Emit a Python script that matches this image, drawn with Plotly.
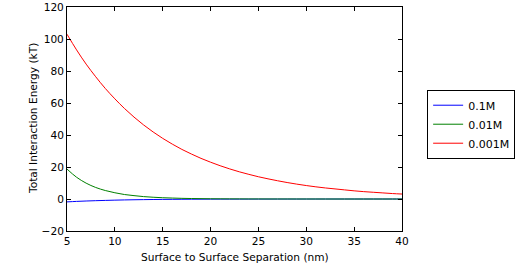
import plotly.graph_objects as go

separation_nm = [5, 6, 7, 8, 9, 10, 11, 12, 13, 14, 15, 16, 17, 18, 19, 20,
                 21, 22, 23, 24, 25, 26, 27, 28, 29, 30, 31, 32, 33, 34, 35,
                 36, 37, 38, 39, 40]

energy_01M = [-1.8, -1.5, -1.25, -1.05, -0.88, -0.72, -0.58, -0.47, -0.38, -0.31,
              -0.25, -0.21, -0.17, -0.14, -0.12, -0.10, -0.09, -0.08, -0.07, -0.06,
              -0.05, -0.045, -0.04, -0.035, -0.03, -0.025, -0.022, -0.02, -0.018, -0.016,
              -0.014, -0.013, -0.012, -0.011, -0.010, -0.010]

energy_001M = [18.7, 13.6, 9.9, 7.2, 5.3, 3.9, 2.8, 2.1, 1.5, 1.1,
               0.8, 0.6, 0.42, 0.3, 0.22, 0.15, 0.11, 0.08, 0.06, 0.04,
               0.03, 0.02, 0.015, 0.01, 0.008, 0.006, 0.004, 0.003, 0.002, 0.002,
               0.001, 0.001, 0.001, 0.0, 0.0, 0.0]

energy_0001M = [103.0, 93.2, 84.3, 76.4, 69.1, 62.6, 56.6, 51.2, 46.3, 41.9,
                37.9, 34.3, 31.0, 28.1, 25.4, 23.0, 20.8, 18.8, 17.0, 15.4,
                13.9, 12.6, 11.4, 10.3, 9.3, 8.4, 7.6, 6.9, 6.3, 5.7,
                5.1, 4.6, 4.2, 3.8, 3.4, 3.1]

series_names = ["0.1M", "0.01M", "0.001M"]
series_colors = ["#0000ff", "#008000", "#ff0000"]
series_values = [energy_01M, energy_001M, energy_0001M]

x_ticks = [5, 10, 15, 20, 25, 30, 35, 40]
y_ticks = [-20, 0, 20, 40, 60, 80, 100, 120]
x_title = "Surface to Surface Separation (nm)"
y_title = "Total Interaction Energy (kT)"

FS = 10.6

fig = go.Figure()
for name, color, vals in zip(series_names, series_colors, series_values):
    fig.add_trace(go.Scatter(x=separation_nm, y=vals, mode="lines", name=name,
                             line=dict(color=color, width=1, shape="spline")))

axis_common = dict(showline=True, linecolor="black", linewidth=1, mirror="ticks",
                   ticks="inside", ticklen=4, tickcolor="black", showgrid=False,
                   zeroline=False, automargin=False,
                   tickfont=dict(size=FS, color="black"))

fig.update_xaxes(range=[5, 40], tickvals=x_ticks, **axis_common)
fig.update_yaxes(range=[-20, 120], tickvals=y_ticks, **axis_common)

fig.add_annotation(text=x_title, xref="paper", yref="paper", x=0.5, y=0,
                   xanchor="center", yanchor="middle", yshift=-26,
                   showarrow=False, font=dict(size=FS, color="black"))
fig.add_annotation(text=y_title, xref="paper", yref="paper", x=0, y=0.5,
                   xanchor="center", yanchor="middle", xshift=-34, textangle=-90,
                   showarrow=False, font=dict(size=FS, color="black"))

fig.update_layout(
    width=519, height=267,
    margin=dict(l=67, r=117, t=7, b=36),
    paper_bgcolor="white", plot_bgcolor="white",
    font=dict(family="DejaVu Sans", size=FS, color="black"),
    legend=dict(xref="container", yref="container", x=0.823, y=0.664,
                xanchor="left", yanchor="top",
                bordercolor="black", borderwidth=1, itemwidth=30,
                font=dict(size=11), tracegroupgap=0),
    showlegend=True,
)

fig.write_html("out.html", config={"displayModeBar": False},
               post_script="document.body.style.margin='0px';")
